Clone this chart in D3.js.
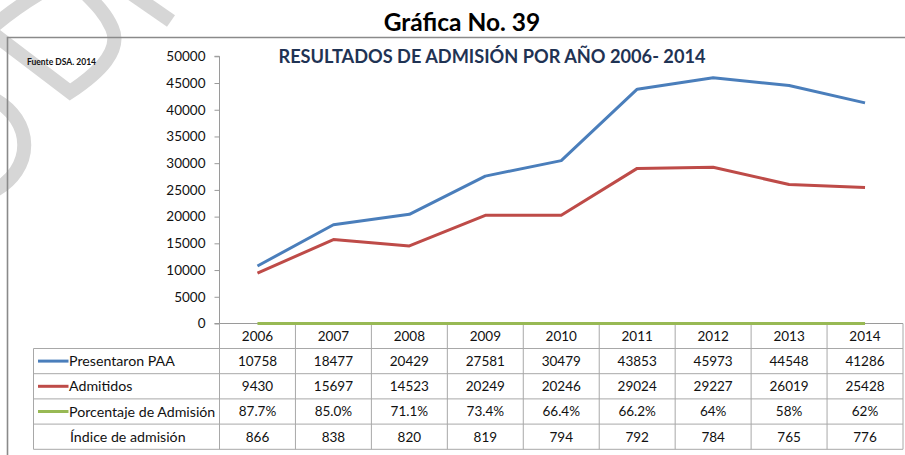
<!DOCTYPE html>
<html>
<head>
<meta charset="utf-8">
<script src="https://cdn.jsdelivr.net/npm/d3@7/dist/d3.min.js"></script>
<style>
  html, body { margin: 0; padding: 0; background: #fff; }
  svg { display: block; }
  text { font-family: Lato, "Open Sans", sans-serif; fill: #111; }
</style>
</head>
<body>
<svg id="chart" width="905" height="455"></svg>
<script>
// Admission results per year
const years = ["2006", "2007", "2008", "2009", "2010", "2011", "2012", "2013", "2014"];
const presentaron = [10758, 18477, 20429, 27581, 30479, 43853, 45973, 44548, 41286];
const admitidos = [9430, 15697, 14523, 20249, 20246, 29024, 29227, 26019, 25428];
const porcentaje = [0.877, 0.850, 0.711, 0.734, 0.664, 0.662, 0.64, 0.58, 0.62];
const porcentajeLabels = ["87.7%", "85.0%", "71.1%", "73.4%", "66.4%", "66.2%", "64%", "58%", "62%"];
const indice = [866, 838, 820, 819, 794, 792, 784, 765, 776];
const yTicks = [0, 5000, 10000, 15000, 20000, 25000, 30000, 35000, 40000, 45000, 50000];

const seriesNames = ["Presentaron PAA", "Admitidos", "Porcentaje de Admisión", "Índice de admisión"];
const seriesColors = ["#4a7ebb", "#be4b48", "#98b954", null];

const svg = d3.select("#chart");

// Diagonal watermark strokes in the upper-left corner
const wm = svg.append("g")
  .attr("fill", "none")
  .attr("stroke", "#d6d6d6")
  .attr("stroke-width", 14)
  .attr("stroke-linejoin", "miter");
wm.append("path").attr("d", "M-22,22 L70,92 C100,72 122,50 112,28 C106,14 96,4 84,-8");
wm.append("path").attr("d", "M42,-8 C25,2 8,14 -6,26");
wm.append("path").attr("d", "M132,-6 L171,21");
wm.append("path").attr("d", "M-8,98 C35,120 35,170 -8,192");

// Outer frame (top and left edges)
svg.append("path")
  .attr("d", "M7.5,455 L7.5,37.5 L905,37.5")
  .attr("fill", "none")
  .attr("stroke", "#8a8a8a")
  .attr("stroke-width", 1.6);

// Headings
svg.append("text")
  .attr("x", 462).attr("y", 31)
  .attr("text-anchor", "middle")
  .attr("font-weight", 700)
  .attr("font-size", 24.5)
  .style("fill", "#000")
  .text("Gráfica No. 39");

svg.append("text")
  .attr("x", 492).attr("y", 63)
  .attr("text-anchor", "middle")
  .attr("font-weight", 700)
  .attr("font-size", 18.2)
  .style("fill", "#1f3354")
  .text("RESULTADOS DE ADMISIÓN POR AÑO 2006- 2014");

svg.append("text")
  .attr("x", 27).attr("y", 65)
  .attr("font-weight", 700)
  .attr("font-size", 8.5)
  .text("Fuente DSA. 2014");

// Scales
const plotLeft = 219.5, plotRight = 903;
const x = d3.scaleBand().domain(years).range([plotLeft, plotRight]).padding(0);
const y = d3.scaleLinear().domain([0, 50000]).range([323.5, 56.3]);
const cx = d => x(d) + x.bandwidth() / 2;

// Y axis
const yAxis = svg.append("g")
  .attr("transform", `translate(${plotLeft},0)`)
  .call(d3.axisLeft(y).tickValues(yTicks).tickFormat(d3.format("d")).tickSize(5).tickPadding(9));
yAxis.select(".domain").attr("stroke", "#9a9a9a").attr("d", `M-5,${y(50000)}H0V${y(0)}`);
yAxis.selectAll(".tick line").attr("stroke", "#9a9a9a");
yAxis.selectAll(".tick text")
  .attr("font-family", "Lato, sans-serif")
  .attr("font-size", 13.5)
  .style("fill", "#111");

// Zero baseline
svg.append("line")
  .attr("x1", plotLeft - 5).attr("x2", plotRight)
  .attr("y1", y(0)).attr("y2", y(0))
  .attr("stroke", "#9a9a9a");

// Data table grid
const rowTop = 323.5, headerBottom = 348.5, rowH = 25.2;
const tableLeft = 33.5;
const nRows = seriesNames.length;
const tableBottom = headerBottom + nRows * rowH;
const grid = svg.append("g").attr("stroke", "#a8a8a8").attr("stroke-width", 1);

// column separators
grid.selectAll("line.col")
  .data(years.concat(["end"]))
  .join("line")
  .attr("class", "col")
  .attr("x1", (d, i) => i < years.length ? x(d) : plotRight)
  .attr("x2", (d, i) => i < years.length ? x(d) : plotRight)
  .attr("y1", rowTop).attr("y2", tableBottom);
// horizontal rules
grid.selectAll("line.row")
  .data(d3.range(nRows + 1))
  .join("line")
  .attr("class", "row")
  .attr("x1", tableLeft).attr("x2", plotRight)
  .attr("y1", i => headerBottom + i * rowH)
  .attr("y2", i => headerBottom + i * rowH);
grid.append("line")
  .attr("x1", tableLeft).attr("x2", tableLeft)
  .attr("y1", headerBottom).attr("y2", tableBottom);

// year headers
svg.append("g").selectAll("text")
  .data(years)
  .join("text")
  .attr("x", cx)
  .attr("y", (rowTop + headerBottom) / 2)
  .attr("dy", "0.36em")
  .attr("text-anchor", "middle")
  .attr("font-size", 13.5)
  .text(d => d);

// table rows
const rowValues = [
  presentaron.map(String),
  admitidos.map(String),
  porcentajeLabels,
  indice.map(String)
];
rowValues.forEach((vals, r) => {
  const rc = headerBottom + r * rowH + rowH / 2;
  const g = svg.append("g");
  if (seriesColors[r]) {
    g.append("line")
      .attr("x1", 38).attr("x2", 68.5)
      .attr("y1", rc).attr("y2", rc)
      .attr("stroke", seriesColors[r])
      .attr("stroke-width", 3);
  }
  g.append("text")
    .attr("x", seriesColors[r] ? 69 : 70)
    .attr("y", rc).attr("dy", "0.36em")
    .attr("font-size", 14.2)
    .text(seriesNames[r]);
  g.selectAll("text.v")
    .data(vals)
    .join("text")
    .attr("class", "v")
    .attr("x", (d, i) => cx(years[i]))
    .attr("y", rc).attr("dy", "0.36em")
    .attr("text-anchor", "middle")
    .attr("font-size", 13.5)
    .text(d => d);
});

// Lines
const line = d3.line().x((d, i) => cx(years[i])).y(d => y(d));
const lineData = [porcentaje, admitidos, presentaron];
const lineColors = [seriesColors[2], seriesColors[1], seriesColors[0]];
svg.append("g").selectAll("path")
  .data(lineData)
  .join("path")
  .attr("d", line)
  .attr("fill", "none")
  .attr("stroke", (d, i) => lineColors[i])
  .attr("stroke-width", 3)
  .attr("stroke-linejoin", "round");
</script>
</body>
</html>
